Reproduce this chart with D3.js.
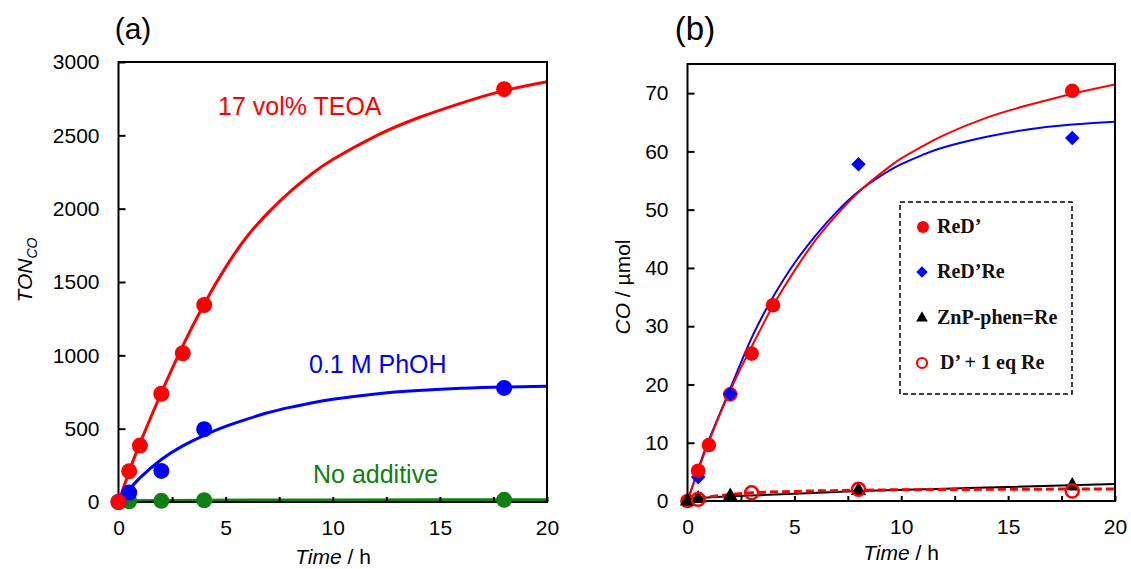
<!DOCTYPE html>
<html>
<head>
<meta charset="utf-8">
<script src="https://cdn.jsdelivr.net/npm/d3@7"></script>
<style>
  html, body { margin: 0; padding: 0; background: #fff; }
  svg { display: block; }
  text { font-family: "Liberation Sans", Arial, sans-serif; }
</style>
</head>
<body>
<svg id="chart" width="1131" height="569"></svg>
<script>
// ---------- Panel (a) data ----------
const aTimesTEOA = [0, 0.5, 1, 2, 3, 4, 18];
const aTONTEOA   = [0, 210, 385, 738, 1014, 1343, 2815];
const aTimesPhOH = [0, 0.5, 2, 4, 18];
const aTONPhOH   = [0, 64, 212, 496, 778];
const aTimesNone = [0.5, 2, 4, 18];
const aTONNone   = [5, 8, 12, 15];

const aFitTimes  = [0, 0.5, 1, 2, 3, 4, 5, 6, 7, 8, 9, 10, 12, 14, 16, 18, 20];
const aFitTEOA   = [0, 210, 400, 745, 1065, 1350, 1600, 1810, 1975, 2115, 2235, 2335, 2495, 2620, 2720, 2805, 2866];
const aFitPhOH   = [0, 85, 165, 290, 383, 455, 515, 565, 610, 645, 675, 700, 737, 760, 775, 784, 790];
const aFitNoneTimes = [0, 0.5, 2, 4, 10, 20];
const aFitNone      = [0, 8, 10, 12, 14, 16];

const aYTicks = [0, 500, 1000, 1500, 2000, 2500, 3000];
const xTicks  = [0, 2.5, 5, 7.5, 10, 12.5, 15, 17.5, 20];
const xTickLabels = ["0", "", "5", "", "10", "", "15", "", "20"];

// ---------- Panel (b) data ----------
const bTimesReD   = [0, 0.5, 1, 2, 3, 4, 18];
const bCOReD      = [0, 5.2, 9.6, 18.3, 25.3, 33.6, 70.4];
const bTimesReDRe = [0, 0.5, 2, 8, 18];
const bCOReDRe    = [0, 4.1, 18.4, 57.8, 62.3];
const bTimesZnP   = [0, 0.5, 2, 8, 18];
const bCOZnP      = [0, 0.4, 0.8, 1.8, 2.6];
const bTimesDRe   = [0.5, 3, 8, 18];
const bCODRe      = [0.3, 1.4, 2.0, 1.7];

const bFitTimes  = [0, 0.5, 1, 2, 3, 4, 5, 6, 7, 8, 9, 10, 11, 12, 14, 16, 18, 20];
const bFitReD    = [0, 5.3, 10.2, 19.0, 26.5, 33.5, 39.5, 44.8, 49.2, 53.0, 56.1, 58.8, 60.9, 62.8, 65.8, 68.0, 69.9, 71.5];
const bFitReDRe  = [0, 5.5, 10.5, 19.3, 28.0, 35.0, 40.8, 45.6, 49.7, 53.1, 55.7, 57.8, 59.4, 60.7, 62.5, 63.8, 64.6, 65.1];
const bFitZnPTimes = [0, 0.5, 2, 3.4, 8, 14, 20];
const bFitZnP      = [0, 0.5, 0.8, 1.0, 1.7, 2.3, 2.9];
const bFitDReTimes = [0.5, 3, 5, 8, 14, 20];
const bFitDRe      = [0.5, 1.4, 1.65, 1.85, 2.0, 2.06];

const bYTicks = [0, 10, 20, 30, 40, 50, 60, 70];
const legendLabels = ["ReD\u2019", "ReD\u2019Re", "ZnP-phen=Re", "D\u2019 + 1 eq Re"];

// ---------- drawing ----------
const svg = d3.select("#chart");
const zip = (xs, ys) => xs.map((t, i) => [t, ys[i]]);

function frame(g, x, y) {
  const [x0, x1] = x.range();
  const [y0, y1] = y.range();
  g.append("rect").attr("x", x0).attr("y", y1).attr("width", x1 - x0).attr("height", y0 - y1)
    .attr("fill", "none").attr("stroke", "#000").attr("stroke-width", 2);
}

function axes(g, x, y, yTicks, fs) {
  const ya = d3.axisLeft(y).tickValues(yTicks).tickSizeInner(-7).tickSizeOuter(0).tickPadding(19)
    .tickFormat(d3.format("d"));
  const yg = g.append("g").attr("transform", `translate(${x.range()[0]},0)`).call(ya);
  const xa = d3.axisBottom(x).tickValues(xTicks).tickSizeInner(-5).tickSizeOuter(0).tickPadding(18)
    .tickFormat((d, i) => xTickLabels[i]);
  const xg = g.append("g").attr("transform", `translate(0,${y.range()[0]})`).call(xa);
  [yg, xg].forEach(a => {
    a.select(".domain").remove();
    a.selectAll(".tick line").attr("stroke", "#000").attr("stroke-width", 2);
    a.selectAll(".tick text").attr("font-size", fs).attr("fill", "#000")
      .style("font-family", "'Liberation Sans', Arial, sans-serif");
  });
}

// ===== Panel (a) =====
const xA = d3.scaleLinear().domain([0, 20]).range([118.5, 547]);
const yA = d3.scaleLinear().domain([0, 3000]).range([502, 62]);
const gA = svg.append("g");
const lineA = d3.line().x(d => xA(d[0])).y(d => yA(d[1])).curve(d3.curveNatural);
const lineAm = d3.line().x(d => xA(d[0])).y(d => yA(d[1])).curve(d3.curveMonotoneX);

const green = "#108010", blue = "#0000ff", red = "#ff0000";

gA.append("path").datum(zip(aFitNoneTimes, aFitNone)).attr("d", lineAm)
  .attr("fill", "none").attr("stroke", green).attr("stroke-width", 3);
gA.append("path").datum(zip(aFitTimes, aFitPhOH)).attr("d", lineA)
  .attr("fill", "none").attr("stroke", blue).attr("stroke-width", 3);
gA.append("path").datum(zip(aFitTimes, aFitTEOA)).attr("d", lineA)
  .attr("fill", "none").attr("stroke", red).attr("stroke-width", 3);

frame(gA, xA, yA);
axes(gA, xA, yA, aYTicks, 21);

gA.selectAll(".ptNone").data(zip(aTimesNone, aTONNone)).join("circle")
  .attr("cx", d => xA(d[0])).attr("cy", d => yA(d[1])).attr("r", 8).attr("fill", green);
gA.selectAll(".ptPhOH").data(zip(aTimesPhOH, aTONPhOH)).join("circle")
  .attr("cx", d => xA(d[0])).attr("cy", d => yA(d[1])).attr("r", 8).attr("fill", blue);
gA.selectAll(".ptTEOA").data(zip(aTimesTEOA, aTONTEOA)).join("circle")
  .attr("cx", d => xA(d[0])).attr("cy", d => yA(d[1])).attr("r", 8).attr("fill", red);

gA.append("text").attr("x", 218).attr("y", 115).attr("font-size", 25).attr("fill", red).text("17 vol% TEOA");
gA.append("text").attr("x", 309).attr("y", 373).attr("font-size", 25).attr("fill", blue).text("0.1 M PhOH");
gA.append("text").attr("x", 313).attr("y", 483).attr("font-size", 25).attr("fill", green).text("No additive");

gA.append("text").attr("x", 133).attr("y", 39).attr("font-size", 30).attr("text-anchor", "middle").text("(a)");
const tA = gA.append("text").attr("text-anchor", "middle").attr("font-size", 21)
  .attr("x", 333).attr("y", 564);
tA.append("tspan").attr("font-style", "italic").text("Time");
tA.append("tspan").text(" / h");
const yl = gA.append("text").attr("text-anchor", "middle").attr("font-size", 21)
  .attr("transform", "translate(32,270) rotate(-90)");
yl.append("tspan").attr("font-style", "italic").text("TON");
yl.append("tspan").attr("font-style", "italic").attr("font-size", 14).attr("dy", 5).text("CO");

// ===== Panel (b) =====
const xB = d3.scaleLinear().domain([0, 20]).range([687.5, 1115]);
const yB = d3.scaleLinear().domain([0, 75]).range([501, 64]);
const gB = svg.append("g");
const lineB = d3.line().x(d => xB(d[0])).y(d => yB(d[1])).curve(d3.curveNatural);
const lineBm = d3.line().x(d => xB(d[0])).y(d => yB(d[1])).curve(d3.curveMonotoneX);

gB.append("path").datum(zip(bFitZnPTimes, bFitZnP)).attr("d", lineBm)
  .attr("fill", "none").attr("stroke", "#000").attr("stroke-width", 2);
gB.append("path").datum(zip(bFitDReTimes, bFitDRe)).attr("d", lineBm)
  .attr("fill", "none").attr("stroke", red).attr("stroke-width", 3).attr("stroke-dasharray", "8,4");
gB.append("path").datum(zip(bFitTimes, bFitReDRe)).attr("d", lineB)
  .attr("fill", "none").attr("stroke", blue).attr("stroke-width", 2);
gB.append("path").datum(zip(bFitTimes, bFitReD)).attr("d", lineB)
  .attr("fill", "none").attr("stroke", red).attr("stroke-width", 2);

frame(gB, xB, yB);
axes(gB, xB, yB, bYTicks, 21);

const diamond = d3.symbol().type(d3.symbolSquare).size(106)();
const tri = d3.symbol().type(d3.symbolTriangle).size(100)();

gB.selectAll(".ptReDRe").data(zip(bTimesReDRe, bCOReDRe)).join("path")
  .attr("d", diamond).attr("transform", d => `translate(${xB(d[0])},${yB(d[1])}) rotate(45)`).attr("fill", blue);
gB.selectAll(".ptReD").data(zip(bTimesReD, bCOReD)).join("circle")
  .attr("cx", d => xB(d[0])).attr("cy", d => yB(d[1])).attr("r", 7.3).attr("fill", red);
// diamond at t=2 sits on top of the red circle
gB.selectAll(".ptReDRe2").data(zip(bTimesReDRe, bCOReDRe).filter(d => d[0] === 2)).join("path")
  .attr("d", diamond).attr("transform", d => `translate(${xB(d[0])},${yB(d[1])}) rotate(45)`).attr("fill", blue);
gB.selectAll(".ptZnP").data(zip(bTimesZnP, bCOZnP)).join("path")
  .attr("d", tri).attr("transform", d => `translate(${xB(d[0])},${yB(d[1])})`).attr("fill", "#000");
gB.selectAll(".ptDRe").data(zip(bTimesDRe, bCODRe)).join("circle")
  .attr("cx", d => xB(d[0])).attr("cy", d => yB(d[1])).attr("r", 6.5)
  .attr("fill", "none").attr("stroke", red).attr("stroke-width", 2.5);

// legend
const lg = gB.append("g");
lg.append("rect").attr("x", 900).attr("y", 202).attr("width", 172).attr("height", 192)
  .attr("fill", "#fff").attr("stroke", "#000").attr("stroke-width", 1.5).attr("stroke-dasharray", "5,3");
const legY = [227, 272, 318, 363];
const legTextX = [937, 937, 937, 940];
lg.append("circle").attr("cx", 923).attr("cy", legY[0]).attr("r", 6).attr("fill", red);
lg.append("path").attr("d", d3.symbol().type(d3.symbolSquare).size(64)())
  .attr("transform", `translate(922,${legY[1]}) rotate(45)`).attr("fill", blue);
lg.append("path").attr("d", d3.symbol().type(d3.symbolTriangle).size(60)())
  .attr("transform", `translate(922,${legY[2]})`).attr("fill", "#000");
lg.append("circle").attr("cx", 922).attr("cy", legY[3]).attr("r", 5).attr("fill", "none")
  .attr("stroke", red).attr("stroke-width", 2.2);
legendLabels.forEach((s, i) => {
  lg.append("text").attr("x", legTextX[i]).attr("y", legY[i] + 6).attr("font-size", 20)
    .attr("font-weight", "bold").style("font-family", "'Liberation Serif', 'Times New Roman', serif")
    .attr("fill", "#111").text(s);
});

gB.append("text").attr("x", 695).attr("y", 40).attr("font-size", 33).attr("text-anchor", "middle").text("(b)");
const tB = gB.append("text").attr("text-anchor", "middle").attr("font-size", 21)
  .attr("x", 901).attr("y", 560);
tB.append("tspan").attr("font-style", "italic").text("Time");
tB.append("tspan").text(" / h");
const ylb = gB.append("text").attr("text-anchor", "middle").attr("font-size", 21)
  .attr("transform", "translate(630,287) rotate(-90)");
ylb.append("tspan").attr("font-style", "italic").text("CO");
ylb.append("tspan").text(" / \u00b5mol");
</script>
</body>
</html>
